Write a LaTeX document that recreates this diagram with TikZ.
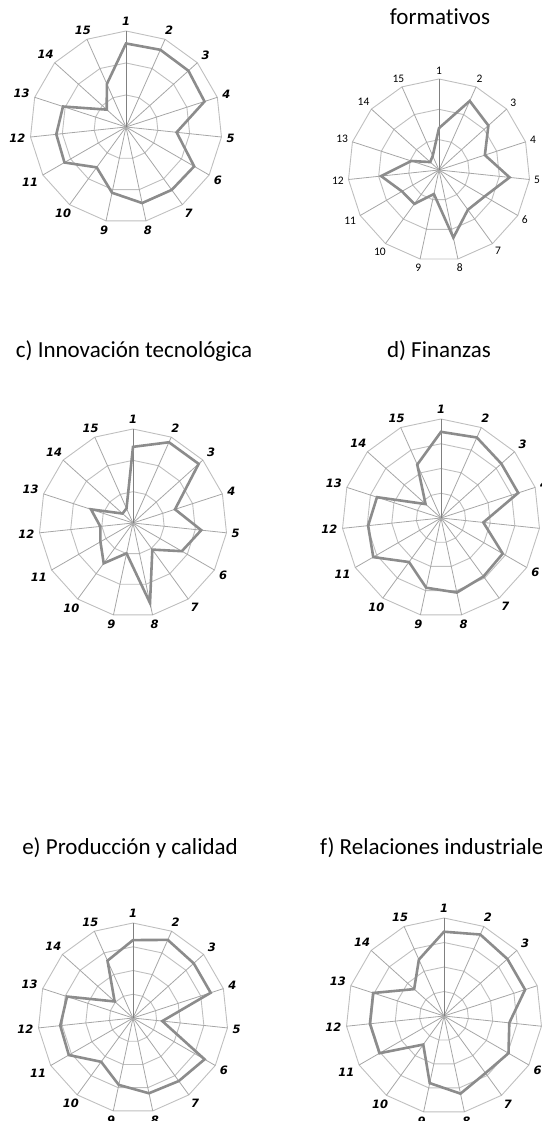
\documentclass[tikz,border=0pt]{standalone}
\usepackage{fontspec}
\setmainfont{Carlito}[Ligatures=NoCommon]
\newfontfamily\axisfont{DejaVu Sans}

\definecolor{gridgray}{HTML}{BFBFBF}
\definecolor{spokegray}{HTML}{A6A6A6}
\definecolor{axisgray}{HTML}{808080}
\definecolor{datagray}{HTML}{8C8C8C}

\tikzset{
  gridline/.style={draw=gridgray, line width=0.9pt},
  spoke/.style={draw=spokegray, line width=0.8pt},
  firstspoke/.style={draw=axisgray, line width=0.9pt},
  dataline/.style={draw=datagray, line width=2.6pt, line join=miter},
  lblbi/.style={font=\axisfont\bfseries\itshape\fontsize{11.5}{11.5}\selectfont, inner sep=1pt},
  lblreg/.style={font=\fontsize{11.5}{11.5}\selectfont, inner sep=0.5pt},
  ttl/.style={font=\fontsize{23}{23}\selectfont, inner sep=0pt}
}

% #1,#2 centre, #3 radius, #4 rings, #5 values, #6 label style, #7 name
\newcommand\radarplot[7]{%
  \begin{scope}[shift={(#1,#2)}]
    \coordinate (#7c) at (0,0);
    \foreach \j in {1,...,#4}
      \draw[gridline] (90:{\j*#3/#4}) \foreach \k in {2,...,15} {-- ({90-(\k-1)*24}:{\j*#3/#4})} -- cycle;
    \foreach \k in {2,...,15}
      \draw[spoke] (#7c) -- ({90-(\k-1)*24}:#3);
    \draw[firstspoke] (#7c) -- (90:#3);
    \foreach \v [count=\k] in {#5}
      \coordinate (#7p\k) at ({90-(\k-1)*24}:{\v*#3});
    \draw[dataline] (#7p1) \foreach \k in {2,...,15} {-- (#7p\k)} -- cycle;
    \foreach \k in {1,...,15} {%
      \pgfmathtruncatemacro\an{mod(630-(\k-1)*24,360)}
      \node[#6, anchor=\an] (#7l\k) at ({90-(\k-1)*24}:#3+4) {\k};
    }
  \end{scope}}

\begin{document}
\begin{tikzpicture}[x=1pt, y=1pt]
  \useasboundingbox (0,0) rectangle (541,1121);

  \radarplot{126}{994}{96}{3}{.87,.88,.875,.86,.53,.82,.81,.81,.70,.52,.74,.73,.69,.27,.49}{lblbi}{a}
  \radarplot{439}{951}{91}{3}{.46,.83,.73,.53,.78,.58,.54,.76,.27,.46,.47,.64,.32,.13,.17}{lblreg}{b}
  \radarplot{133}{598}{94}{3}{.81,.94,.94,.47,.73,.60,.35,.87,.33,.53,.40,.35,.47,.15,.17}{lblbi}{c}
  \radarplot{441}{603}{99}{4}{.87,.89,.82,.82,.43,.72,.73,.77,.72,.55,.79,.74,.68,.21,.59}{lblbi}{d}
  \radarplot{133}{103}{95}{4}{.82,.90,.86,.86,.31,.87,.82,.81,.72,.57,.78,.77,.73,.26,.66}{lblbi}{e}
  \radarplot{444}{105}{98}{4}{.86,.91,.87,.87,.67,.76,.72,.81,.70,.36,.76,.76,.76,.41,.63}{lblbi}{f}

  \node[ttl] (tb) at (440,1104) {formativos};
  \node[ttl] (tc) at (134,770) {c) Innovación tecnológica};
  \node[ttl] (td) at (439,770) {d) Finanzas};
  \node[ttl] (te) at (130,273) {e) Producción y calidad};
  \node[ttl, anchor=west] (tf) at (320,273) {f) Relaciones industriales};
\end{tikzpicture}
\end{document}
